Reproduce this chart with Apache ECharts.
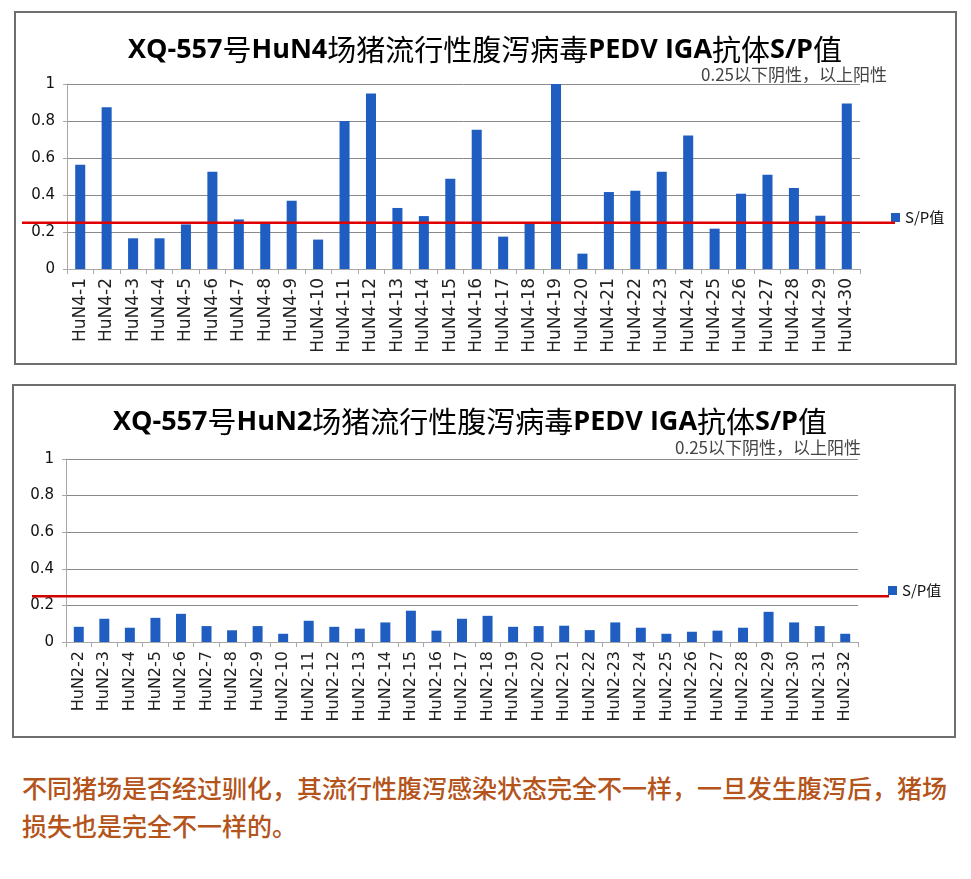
<!DOCTYPE html>
<html><head><meta charset="utf-8">
<script src="https://cdn.jsdelivr.net/npm/echarts@6/dist/echarts.min.js"></script>
<style>
html,body{margin:0;padding:0;background:#fff;width:971px;height:879px;overflow:hidden;}
#chart{position:absolute;left:0;top:0;width:971px;height:760px;}
.frame{position:absolute;border:2px solid #6e6e6e;box-sizing:border-box;pointer-events:none;}
#note{position:absolute;left:22px;top:768px;width:945px;font-family:"Noto Sans CJK SC",sans-serif;font-size:25px;line-height:38px;color:#b4531a;font-weight:500;white-space:nowrap;}
</style></head>
<body>
<div id="chart"></div>
<div class="frame" style="left:14px;top:11px;width:943px;height:354px;"></div>
<div class="frame" style="left:12px;top:384px;width:944px;height:354px;"></div>
<div id="note">不同猪场是否经过驯化，其流行性腹泻感染状态完全不一样，一旦发生腹泻后，猪场<br>损失也是完全不一样的。</div>
<script>
const catsTop = ['HuN4-1','HuN4-2','HuN4-3','HuN4-4','HuN4-5','HuN4-6','HuN4-7','HuN4-8','HuN4-9','HuN4-10','HuN4-11','HuN4-12','HuN4-13','HuN4-14','HuN4-15','HuN4-16','HuN4-17','HuN4-18','HuN4-19','HuN4-20','HuN4-21','HuN4-22','HuN4-23','HuN4-24','HuN4-25','HuN4-26','HuN4-27','HuN4-28','HuN4-29','HuN4-30'];
const valsTop = [0.564,0.874,0.166,0.166,0.241,0.526,0.268,0.249,0.369,0.159,0.800,0.948,0.330,0.286,0.488,0.753,0.175,0.247,1.000,0.083,0.416,0.423,0.526,0.721,0.218,0.407,0.510,0.438,0.288,0.894];
const catsBot = ['HuN2-2','HuN2-3','HuN2-4','HuN2-5','HuN2-6','HuN2-7','HuN2-8','HuN2-9','HuN2-10','HuN2-11','HuN2-12','HuN2-13','HuN2-14','HuN2-15','HuN2-16','HuN2-17','HuN2-18','HuN2-19','HuN2-20','HuN2-21','HuN2-22','HuN2-23','HuN2-24','HuN2-25','HuN2-26','HuN2-27','HuN2-28','HuN2-29','HuN2-30','HuN2-31','HuN2-32'];
const valsBot = [0.083,0.127,0.078,0.132,0.154,0.087,0.064,0.087,0.045,0.116,0.083,0.073,0.107,0.171,0.062,0.127,0.143,0.083,0.087,0.089,0.065,0.107,0.078,0.045,0.056,0.062,0.078,0.165,0.107,0.087,0.045];
const yTicks = [0, 0.2, 0.4, 0.6, 0.8, 1];
const thresholdX = [0, 1];
const thresholdY = [0.25, 0.25];
const seriesName = 'S/P值';
const subText = '0.25以下阴性，以上阳性';

const chart = echarts.init(document.getElementById('chart'));
const titleRich = {
  b:{fontFamily:'"Open Sans",sans-serif',fontWeight:'bold',fontSize:27,color:'#000'},
  c:{fontFamily:'"Noto Sans CJK SC",sans-serif',fontWeight:'normal',fontSize:29,color:'#000'}
};
function titleText(farm){
  return '{b|XQ-557}{c|号}{b|'+farm+'}{c|场猪流行性腹泻病毒}{b|PEDV IGA}{c|抗体}{b|S/P}{c|值}';
}
const yMin = yTicks[0], yMax = yTicks[yTicks.length-1], yInt = yTicks[1]-yTicks[0];
function yAxis(gi, show){
  return {type:'value',gridIndex:gi,min:yMin,max:yMax,interval:yInt,show:show,
    axisLine:{show:true,lineStyle:{color:'#a8a8a8'}},
    axisTick:{show:true,length:4,lineStyle:{color:'#a8a8a8'}},
    axisLabel:{fontFamily:'"DejaVu Sans",sans-serif',fontSize:15,color:'#111',margin:12},
    splitLine:{show:true,lineStyle:{color:'#8a8a8a',width:1}}};
}
function xAxis(gi, cats, fs){
  return {type:'category',gridIndex:gi,data:cats,boundaryGap:true,
    axisLine:{lineStyle:{color:'#a8a8a8'}},
    axisTick:{show:true,length:5,alignWithLabel:false,lineStyle:{color:'#a8a8a8'}},
    axisLabel:{rotate:90,interval:0,fontFamily:'"DejaVu Sans",Verdana,sans-serif',fontSize:fs,color:'#222',margin:9}};
}
function lineX(gi){
  return {type:'value',gridIndex:gi,min:0,max:1,show:false};
}
chart.setOption({
  animation:false,
  title:[
    {text:titleText('HuN4'),left:480,top:45,textAlign:'center',textVerticalAlign:'middle',textStyle:{rich:titleRich}},
    {text:subText,right:971-892,top:61,textStyle:{fontFamily:'"Noto Sans CJK SC",sans-serif',fontSize:17,fontWeight:'normal',color:'#444'}},
    {text:titleText('HuN2'),left:465,top:417,textAlign:'center',textVerticalAlign:'middle',textStyle:{rich:titleRich}},
    {text:subText,right:971-866,top:434,textStyle:{fontFamily:'"Noto Sans CJK SC",sans-serif',fontSize:17,fontWeight:'normal',color:'#444'}}
  ],
  legend:[
    {left:886,top:205,data:[seriesName],itemWidth:9,itemHeight:9,itemGap:4,icon:'rect',textStyle:{fontFamily:'"Noto Sans CJK SC",sans-serif',fontSize:15,color:'#111'}},
    {left:883,top:578,data:[seriesName],itemWidth:9,itemHeight:9,itemGap:4,icon:'rect',textStyle:{fontFamily:'"Noto Sans CJK SC",sans-serif',fontSize:15,color:'#111'}}
  ],
  grid:[
    {left:67,right:971-860,top:84,height:185},
    {left:66,right:971-858,top:459,height:183},
    {left:22,right:971-895,top:84,height:185},
    {left:32,right:971-889,top:459,height:183}
  ],
  xAxis:[xAxis(0,catsTop,17), xAxis(1,catsBot,16), lineX(2), lineX(3)],
  yAxis:[yAxis(0,true), yAxis(1,true), {type:'value',gridIndex:2,min:yMin,max:yMax,show:false}, {type:'value',gridIndex:3,min:yMin,max:yMax,show:false}],
  series:[
    {name:seriesName,type:'bar',xAxisIndex:0,yAxisIndex:0,data:valsTop,barWidth:'38%',itemStyle:{color:'#1f5ec0'}},
    {name:seriesName,type:'bar',xAxisIndex:1,yAxisIndex:1,data:valsBot,barWidth:'39%',itemStyle:{color:'#1f5ec0'}},
    {name:'threshold1',type:'line',xAxisIndex:2,yAxisIndex:2,data:thresholdX.map((x,i)=>[x,thresholdY[i]]),symbol:'none',lineStyle:{color:'#e00000',width:2.5},z:5},
    {name:'threshold2',type:'line',xAxisIndex:3,yAxisIndex:3,data:thresholdX.map((x,i)=>[x,thresholdY[i]]),symbol:'none',lineStyle:{color:'#d40000',width:2.5},z:5}
  ]
});
</script>
</body></html>
